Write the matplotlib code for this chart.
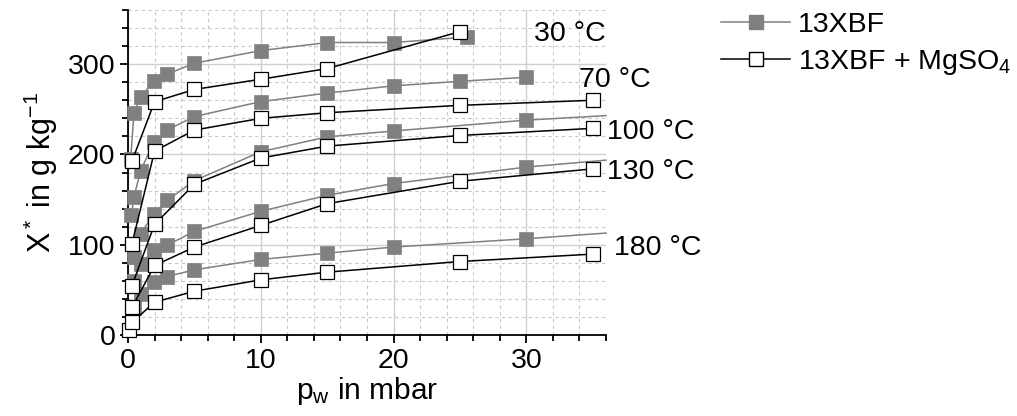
import matplotlib
matplotlib.use("Agg")
from matplotlib import pyplot as plt
from matplotlib.ticker import MultipleLocator
from matplotlib.lines import Line2D

plt.rcParams['font.family'] = ['Liberation Sans', 'DejaVu Sans']
plt.rcParams['mathtext.fontset'] = 'custom'
plt.rcParams['mathtext.rm'] = 'Liberation Sans'
plt.rcParams['mathtext.it'] = 'Liberation Sans:italic'
plt.rcParams['mathtext.default'] = 'rm'

# 13XBF (filled), last point of some series is the line end only (no marker)
bf_30_p = [0.2, 0.45, 0.95, 1.95, 2.95, 5, 10, 15, 20, 25.5]
bf_30_x = [195, 246, 264, 281, 289, 301, 315, 324, 324, 330]
bf_70_p = [0.25, 0.45, 0.95, 1.95, 2.95, 5, 10, 15, 20, 25, 30]
bf_70_x = [133, 153, 182, 214, 227, 242, 258.5, 268, 276, 281, 285.5]
bf_100_p = [0.45, 0.95, 1.95, 2.95, 5, 10, 15, 20, 30, 36]
bf_100_x = [86, 112, 134, 149, 171, 203, 219.5, 226, 238, 243]
bf_130_p = [0.45, 0.95, 1.95, 2.95, 5, 10, 15, 20, 30, 36]
bf_130_x = [60, 79, 93.7, 99.5, 114.8, 137, 154.8, 167.8, 186, 193.7]
bf_180_p = [0.45, 0.95, 1.95, 2.95, 5, 10, 15, 20, 30, 36]
bf_180_x = [30, 45.5, 58.4, 64.8, 72.2, 83.7, 90.7, 97.4, 106.6, 112.9]

# 13XBF + MgSO4 (open)
mg_30_p = [0.3, 2, 5, 10, 15, 25]
mg_30_x = [192.6, 258.4, 272, 283.3, 295.1, 336]
mg_70_p = [0.3, 2, 5, 10, 15, 25, 35]
mg_70_x = [101, 203.7, 227, 240, 246.2, 254.4, 260]
mg_100_p = [0.3, 2, 5, 10, 15, 25, 35]
mg_100_x = [54.8, 122.6, 167, 196, 209.2, 221, 228.9]
mg_130_p = [0.3, 2, 5, 10, 15, 25, 35]
mg_130_x = [30.7, 77, 97.4, 121.4, 145.5, 170.3, 184]
mg_180_p = [0.1, 0.3, 2, 5, 10, 15, 25, 35]
mg_180_x = [5, 14, 36.3, 48.5, 61.1, 69.6, 81.4, 89.6]

temp_labels = ["30 °C", "70 °C", "100 °C", "130 °C", "180 °C"]
label_pos = [(30.6, 333), (34.0, 283), (36.05, 225), (36.05, 181), (36.6, 96)]

gray = "#808080"
fs = 20.5

fig = plt.figure(figsize=(10.17, 4.16), dpi=100)
ax = fig.add_axes([128/1017, 1-335/416, (606-128)/1017, (335-10)/416])

filled = [(bf_30_p, bf_30_x, False), (bf_70_p, bf_70_x, False), (bf_100_p, bf_100_x, True),
          (bf_130_p, bf_130_x, True), (bf_180_p, bf_180_x, True)]
for p, x, ext in filled:
    me = slice(0, len(p)-1) if ext else None
    ax.plot(p, x, "-s", color=gray, lw=1.1, ms=9.5, mfc=gray, mec=gray, mew=0.5,
            markevery=me, clip_on=False, zorder=3)

opens = [(mg_30_p, mg_30_x), (mg_70_p, mg_70_x), (mg_100_p, mg_100_x),
         (mg_130_p, mg_130_x), (mg_180_p, mg_180_x)]
for p, x in opens:
    ax.plot(p, x, "-s", color="black", lw=1.1, ms=9.5, mfc="white", mec="black", mew=0.9,
            clip_on=False, zorder=4)

for t, (px, py) in zip(temp_labels, label_pos):
    ax.text(px, py, t, fontsize=fs, va="center", ha="left", clip_on=False)

ax.set_xlim(0, 36)
ax.set_ylim(0, 360)
ax.xaxis.set_major_locator(MultipleLocator(10))
ax.xaxis.set_minor_locator(MultipleLocator(2))
ax.yaxis.set_major_locator(MultipleLocator(100))
ax.yaxis.set_minor_locator(MultipleLocator(20))
ax.grid(which="major", color="#d0d0d0", lw=1.0, ls="-")
ax.grid(which="minor", color="#c8c8c8", lw=0.8, ls=(0, (3, 3)))
ax.set_axisbelow(True)
for s in ["top", "right"]:
    ax.spines[s].set_visible(False)
for s in ["left", "bottom"]:
    ax.spines[s].set_linewidth(1.3)
ax.tick_params(which="major", length=6, width=1.3, labelsize=fs, direction="out", pad=3)
ax.tick_params(which="minor", length=4, width=1.3, direction="out")

ax.set_xlabel(r"p$_\mathregular{w}$ in mbar", fontsize=fs + 1, labelpad=1)
ax.set_ylabel(r"X$^*$ in g kg$^{-1}$", fontsize=fs + 1.5, labelpad=6)

h1 = Line2D([], [], color=gray, lw=1.1, marker="s", ms=9.5, mfc=gray, mec=gray)
h2 = Line2D([], [], color="black", lw=1.1, marker="s", ms=9.5, mfc="white", mec="black")
fig.legend([h1, h2], ["13XBF", r"13XBF + MgSO$_4$"], loc="upper left",
           bbox_to_anchor=(710/1017, 1-1/416), frameon=False, fontsize=fs,
           handlelength=2.4, handletextpad=0.3, labelspacing=0.35, borderaxespad=0)

fig.savefig("out.png", dpi=100)
